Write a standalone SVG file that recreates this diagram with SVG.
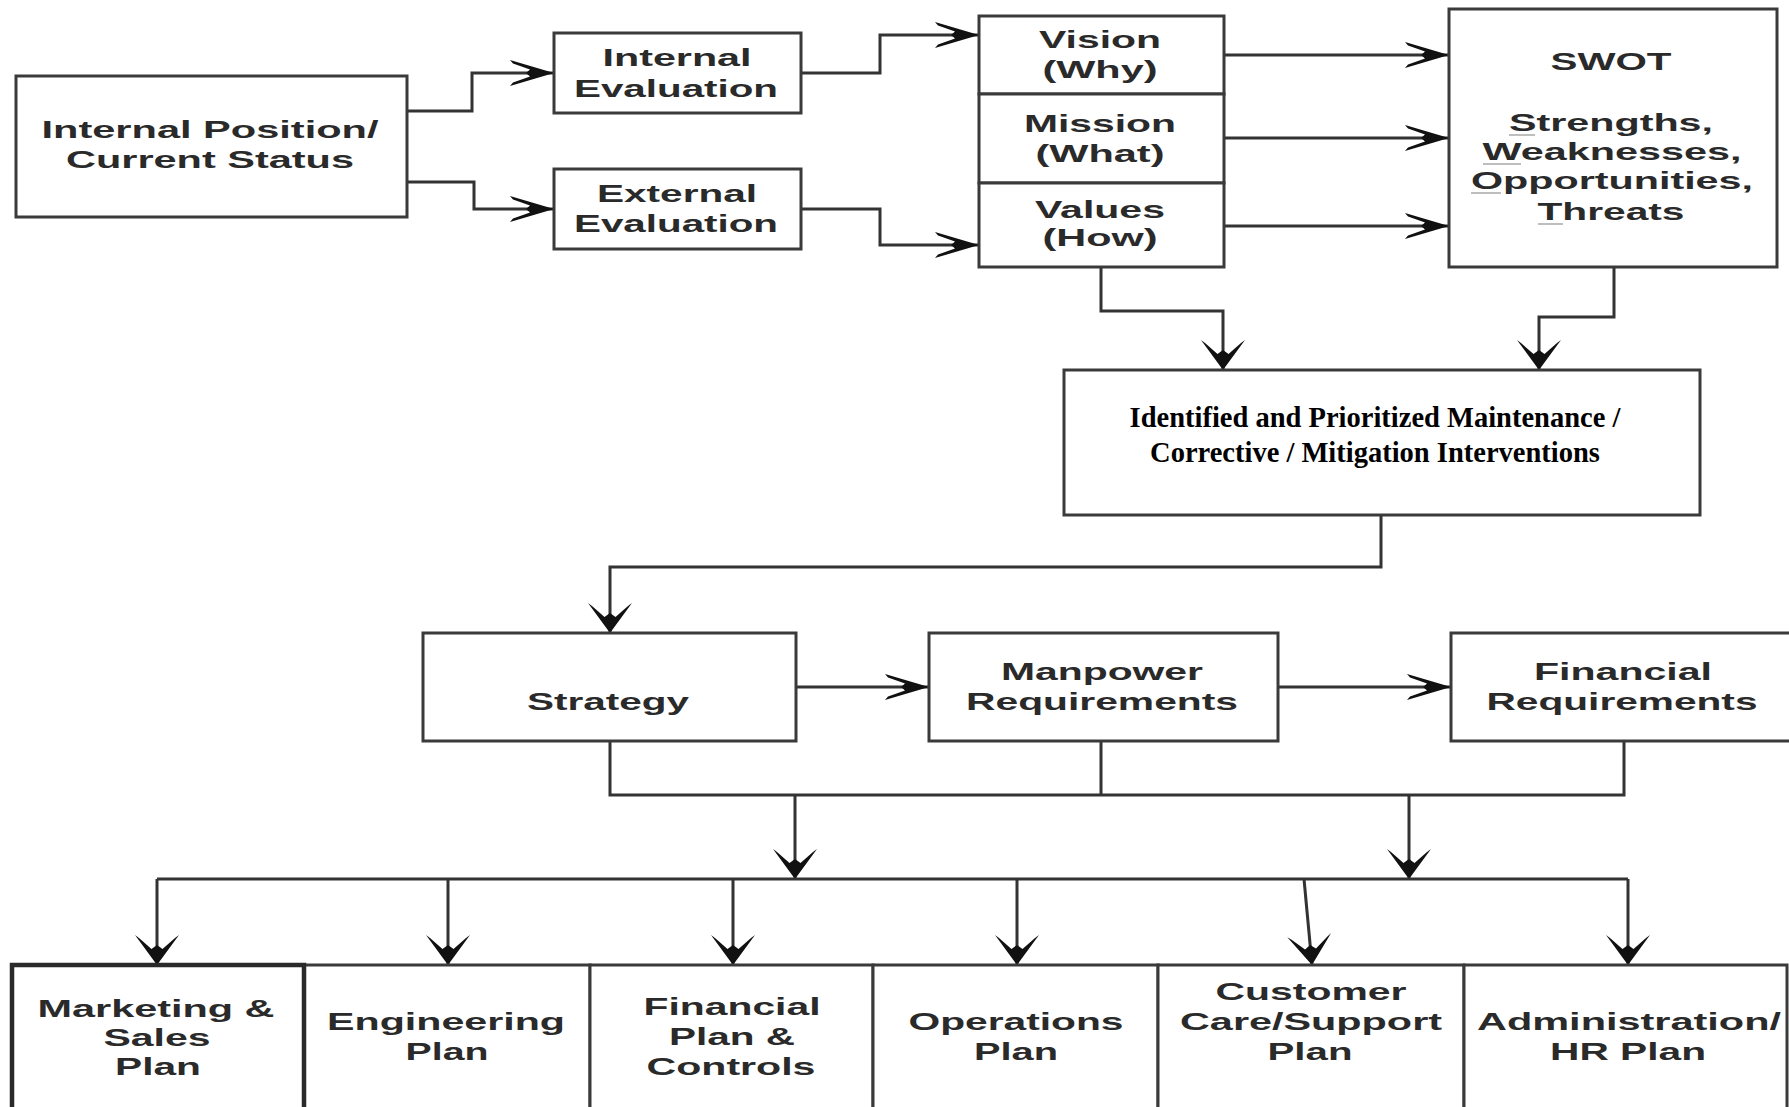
<svg xmlns="http://www.w3.org/2000/svg" width="1789" height="1107" viewBox="0 0 1789 1107">
  <style>
    .box { fill: #ffffff; stroke: #3a3a3a; stroke-width: 3; }
    .thick { stroke-width: 4.5; stroke: #2a2a2a; }
    .t { font-family: "Liberation Sans", Arial, sans-serif; font-weight: bold; font-size: 24px; fill: #2a2a2a; text-anchor: middle; }
    .serif { font-family: "Liberation Serif", "Times New Roman", serif; font-weight: bold; font-size: 28.5px; fill: #000000; text-anchor: middle; }
    .c { fill: none; stroke: #333333; stroke-width: 3; }
    .ah { marker-end: url(#arrH); }
    .av { marker-end: url(#arrV); }
    .ul { stroke: #a8a8a8; stroke-width: 1.5; }
  </style>
  <defs>
    <marker id="arrH" markerUnits="userSpaceOnUse" viewBox="-46 -15 48 30" refX="0" refY="0" markerWidth="48" markerHeight="30" orient="auto" overflow="visible">
      <path d="M0,0 L-44,-13 L-41,-9.5 L-24,-3.5 L-28,0 L-24,3.5 L-41,9.5 L-44,13 Z" fill="#111111"/>
    </marker>
    <marker id="arrV" markerUnits="userSpaceOnUse" viewBox="-32 -24 34 48" refX="0" refY="0" markerWidth="34" markerHeight="48" orient="auto" overflow="visible">
      <path d="M0,0 L-30,-22 L-27,-18 L-16,-5.5 L-20,0 L-16,5.5 L-27,18 L-30,22 Z" fill="#111111"/>
    </marker>
  </defs>
  <rect x="0" y="0" width="1789" height="1107" fill="#ffffff"/>

  <g id="connectors">
    <path class="c ah" d="M407,111 H472 V73 H554"/>
    <path class="c ah" d="M407,182 H474 V209 H554"/>
    <path class="c ah" d="M801,73 H880 V35 H979"/>
    <path class="c ah" d="M801,209 H880 V245 H979"/>
    <path class="c ah" d="M1224,55 H1449"/>
    <path class="c ah" d="M1224,138 H1449"/>
    <path class="c ah" d="M1224,226 H1449"/>
    <path class="c av" d="M1101,267 V311 H1223 V370"/>
    <path class="c av" d="M1614,267 V317 H1539 V370"/>
    <path class="c av" d="M1381,515 V567 H610 V633"/>
    <path class="c ah" d="M796,687 H929"/>
    <path class="c ah" d="M1278,687 H1451"/>
    <path class="c" d="M610,741 V795 H1624 V741"/>
    <path class="c" d="M1101,741 V795"/>
    <path class="c av" d="M795,795 V879"/>
    <path class="c av" d="M1409,795 V879"/>
    <path class="c" d="M157,879 H1628"/>
    <path class="c av" d="M157,879 V965"/>
    <path class="c av" d="M448,879 V965"/>
    <path class="c av" d="M733,879 V965"/>
    <path class="c av" d="M1017,879 V965"/>
    <path class="c av" d="M1304,879 L1312,965"/>
    <path class="c av" d="M1628,879 V965"/>
  </g>

  <g id="internal-position">
    <rect class="box" x="16" y="76" width="391" height="141"/>
    <text class="t" x="210" y="138" textLength="337" lengthAdjust="spacingAndGlyphs">Internal Position/</text>
    <text class="t" x="210" y="168" textLength="288" lengthAdjust="spacingAndGlyphs">Current Status</text>
  </g>

  <g id="internal-evaluation">
    <rect class="box" x="554" y="33" width="247" height="80"/>
    <text class="t" x="677" y="66" textLength="149" lengthAdjust="spacingAndGlyphs">Internal</text>
    <text class="t" x="676" y="97" textLength="204" lengthAdjust="spacingAndGlyphs">Evaluation</text>
  </g>

  <g id="external-evaluation">
    <rect class="box" x="554" y="169" width="247" height="80"/>
    <text class="t" x="677" y="202" textLength="160" lengthAdjust="spacingAndGlyphs">External</text>
    <text class="t" x="676" y="232" textLength="204" lengthAdjust="spacingAndGlyphs">Evaluation</text>
  </g>

  <g id="vision">
    <rect class="box" x="979" y="16" width="245" height="78"/>
    <text class="t" x="1100" y="48" textLength="122" lengthAdjust="spacingAndGlyphs">Vision</text>
    <text class="t" x="1100" y="78" textLength="115" lengthAdjust="spacingAndGlyphs">(Why)</text>
  </g>

  <g id="mission">
    <rect class="box" x="979" y="94" width="245" height="89"/>
    <text class="t" x="1100" y="132" textLength="152" lengthAdjust="spacingAndGlyphs">Mission</text>
    <text class="t" x="1100" y="162" textLength="129" lengthAdjust="spacingAndGlyphs">(What)</text>
  </g>

  <g id="values">
    <rect class="box" x="979" y="183" width="245" height="84"/>
    <text class="t" x="1100" y="218" textLength="130" lengthAdjust="spacingAndGlyphs">Values</text>
    <text class="t" x="1100" y="246" textLength="115" lengthAdjust="spacingAndGlyphs">(How)</text>
  </g>

  <g id="swot">
    <rect class="box" x="1449" y="9" width="328" height="258"/>
    <text class="t" x="1611" y="70" textLength="121" lengthAdjust="spacingAndGlyphs">SWOT</text>
    <text class="t" x="1611" y="131" textLength="204" lengthAdjust="spacingAndGlyphs">Strengths,</text>
    <text class="t" x="1612" y="160" textLength="259" lengthAdjust="spacingAndGlyphs">Weaknesses,</text>
    <text class="t" x="1612" y="189" textLength="282" lengthAdjust="spacingAndGlyphs">Opportunities,</text>
    <text class="t" x="1611" y="220" textLength="147" lengthAdjust="spacingAndGlyphs">Threats</text>
    <line class="ul" x1="1509" y1="135" x2="1535" y2="135"/>
    <line class="ul" x1="1483" y1="164" x2="1521" y2="164"/>
    <line class="ul" x1="1471" y1="193" x2="1501" y2="193"/>
    <line class="ul" x1="1538" y1="224" x2="1563" y2="224"/>
  </g>

  <g id="interventions">
    <rect class="box" x="1064" y="370" width="636" height="145"/>
    <text class="serif" x="1375" y="427">Identified and Prioritized Maintenance /</text>
    <text class="serif" x="1375" y="462">Corrective / Mitigation Interventions</text>
  </g>

  <g id="strategy">
    <rect class="box" x="423" y="633" width="373" height="108"/>
    <text class="t" x="608" y="710" textLength="162" lengthAdjust="spacingAndGlyphs">Strategy</text>
  </g>

  <g id="manpower">
    <rect class="box" x="929" y="633" width="349" height="108"/>
    <text class="t" x="1102" y="680" textLength="202" lengthAdjust="spacingAndGlyphs">Manpower</text>
    <text class="t" x="1102" y="710" textLength="272" lengthAdjust="spacingAndGlyphs">Requirements</text>
  </g>

  <g id="financial-requirements">
    <rect class="box" x="1451" y="633" width="360" height="108"/>
    <text class="t" x="1623" y="680" textLength="178" lengthAdjust="spacingAndGlyphs">Financial</text>
    <text class="t" x="1622" y="710" textLength="271" lengthAdjust="spacingAndGlyphs">Requirements</text>
  </g>

  <g id="engineering">
    <rect class="box" x="304" y="965" width="286" height="160"/>
    <text class="t" x="446" y="1030" textLength="238" lengthAdjust="spacingAndGlyphs">Engineering</text>
    <text class="t" x="447" y="1060" textLength="83" lengthAdjust="spacingAndGlyphs">Plan</text>
  </g>

  <g id="financial-plan">
    <rect class="box" x="590" y="965" width="283" height="160"/>
    <text class="t" x="732" y="1015" textLength="177" lengthAdjust="spacingAndGlyphs">Financial</text>
    <text class="t" x="732" y="1045" textLength="126" lengthAdjust="spacingAndGlyphs">Plan &amp;</text>
    <text class="t" x="731" y="1075" textLength="169" lengthAdjust="spacingAndGlyphs">Controls</text>
  </g>

  <g id="operations">
    <rect class="box" x="873" y="965" width="285" height="160"/>
    <text class="t" x="1016" y="1030" textLength="215" lengthAdjust="spacingAndGlyphs">Operations</text>
    <text class="t" x="1016" y="1060" textLength="84" lengthAdjust="spacingAndGlyphs">Plan</text>
  </g>

  <g id="customer-care">
    <rect class="box" x="1158" y="965" width="306" height="160"/>
    <text class="t" x="1311" y="1000" textLength="191" lengthAdjust="spacingAndGlyphs">Customer</text>
    <text class="t" x="1311" y="1030" textLength="262" lengthAdjust="spacingAndGlyphs">Care/Support</text>
    <text class="t" x="1310" y="1060" textLength="85" lengthAdjust="spacingAndGlyphs">Plan</text>
  </g>

  <g id="administration">
    <rect class="box" x="1464" y="965" width="323" height="160"/>
    <text class="t" x="1629" y="1030" textLength="304" lengthAdjust="spacingAndGlyphs">Administration/</text>
    <text class="t" x="1628" y="1060" textLength="156" lengthAdjust="spacingAndGlyphs">HR Plan</text>
  </g>

  <g id="marketing">
    <rect class="box thick" x="12" y="965" width="292" height="160"/>
    <text class="t" x="156" y="1017" textLength="237" lengthAdjust="spacingAndGlyphs">Marketing &amp;</text>
    <text class="t" x="157" y="1046" textLength="107" lengthAdjust="spacingAndGlyphs">Sales</text>
    <text class="t" x="158" y="1075" textLength="86" lengthAdjust="spacingAndGlyphs">Plan</text>
  </g>
</svg>
